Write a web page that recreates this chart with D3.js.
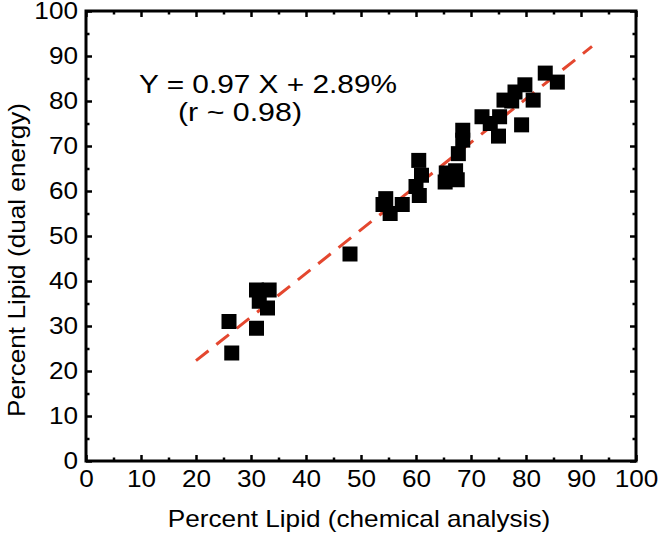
<!DOCTYPE html>
<html><head><meta charset="utf-8">
<script src="https://cdn.jsdelivr.net/npm/d3@7"></script>
<style>body{margin:0;background:#fff}svg{display:block}text{font-family:"Liberation Sans",Arial,sans-serif}</style>
</head><body>
<svg id="c" width="658" height="535"></svg>
<script>
const xVals = [26, 26.5, 31, 33.3, 31.5, 33, 31, 48, 54.5, 54, 55.3, 57.5, 60.5, 61, 60, 60.6, 65.5, 67.5, 65.3, 67.2, 67.7, 68.5, 68.5, 72, 73.5, 75.2, 75, 76, 77.4, 78, 79.8, 81.3, 79.2, 83.5, 85.7];
const yVals = [31, 24, 38, 38, 35.5, 34, 29.5, 46, 58.3, 57, 55, 57, 66.8, 63.5, 61, 59, 64, 62.5, 62, 64.5, 68.3, 71.3, 73.5, 76.5, 75, 76.5, 72.2, 80.2, 80, 82, 83.6, 80.2, 74.7, 86.2, 84.2];
const fitSlope = 0.97, fitIntercept = 2.89;
const fitRange = [20, 92];
const xTicks = [0,10,20,30,40,50,60,70,80,90,100];
const yTicks = [0,10,20,30,40,50,60,70,80,90,100];
const xTitle = "Percent Lipid (chemical analysis)";
const yTitle = "Percent Lipid (dual energy)";
const eqLine1 = "Y = 0.97 X + 2.89%";
const eqLine2 = "(r ~ 0.98)";

const svg = d3.select("#c");
const L = 86, R = 636, T = 11, B = 461;
const x = d3.scaleLinear().domain([0,100]).range([L,R]);
const y = d3.scaleLinear().domain([0,100]).range([B,T]);
const STRETCH = 1.09;
function widen(sel) {
  sel.each(function() {
    const w = this.getComputedTextLength();
    d3.select(this).attr("textLength", w * STRETCH).attr("lengthAdjust", "spacingAndGlyphs");
  });
}

// fit line
svg.append("path")
  .datum([fitRange[0], fitRange[1]])
  .attr("d", d3.line().x(d => x(d)).y(d => y(fitSlope*d + fitIntercept)))
  .attr("stroke", "#e4472f").attr("stroke-width", 3).attr("fill", "none")
  .attr("stroke-dasharray", "16,10");

// points
const pts = xVals.map((v,i)=>[v, yVals[i]]);
const s = 15;
svg.append("g").selectAll("rect").data(pts).join("rect")
  .attr("x", d => x(d[0]) - s/2).attr("y", d => y(d[1]) - s/2)
  .attr("width", s).attr("height", s).attr("fill", "#000");

// axes with inward ticks
const minor = d3.range(5, 100, 10);
function addAxis(axisGen, transform, showLabels) {
  const g = svg.append("g").attr("transform", transform).call(axisGen);
  g.select(".domain").remove();
  g.selectAll("line").attr("stroke", "#000").attr("stroke-width", 2.5);
  g.selectAll("text").attr("font-size", 24).attr("fill", "#000");
  if (!showLabels) g.selectAll("text").remove();
  return g;
}
const bx = addAxis(d3.axisBottom(x).tickValues(xTicks).tickSize(-6).tickPadding(9).tickFormat(d3.format("d")), `translate(0,${B})`, true);
bx.selectAll("text").attr("dy", "0.71em");
widen(bx.selectAll("text"));
addAxis(d3.axisBottom(x).tickValues(minor).tickSize(-3.5), `translate(0,${B})`, false);
addAxis(d3.axisTop(x).tickValues(xTicks).tickSize(-6), `translate(0,${T})`, false);
addAxis(d3.axisTop(x).tickValues(minor).tickSize(-3.5), `translate(0,${T})`, false);
const ly = addAxis(d3.axisLeft(y).tickValues(yTicks).tickSize(-6).tickPadding(8).tickFormat(d3.format("d")), `translate(${L},0)`, true);
widen(ly.selectAll("text"));
addAxis(d3.axisLeft(y).tickValues(minor).tickSize(-3.5), `translate(${L},0)`, false);
addAxis(d3.axisRight(y).tickValues(yTicks).tickSize(-6), `translate(${R},0)`, false);
addAxis(d3.axisRight(y).tickValues(minor).tickSize(-3.5), `translate(${R},0)`, false);

// frame
svg.append("rect").attr("x", L).attr("y", T).attr("width", R-L).attr("height", B-T)
  .attr("fill", "none").attr("stroke", "#000").attr("stroke-width", 3);

// equation text
svg.append("text").attr("x", 139).attr("y", 93).attr("font-size", 26)
  .attr("textLength", 258).attr("lengthAdjust", "spacingAndGlyphs").text(eqLine1);
svg.append("text").attr("x", 178).attr("y", 121).attr("font-size", 26)
  .attr("textLength", 124).attr("lengthAdjust", "spacingAndGlyphs").text(eqLine2);

// axis titles
const xt = svg.append("text").attr("x", 359).attr("y", 527).attr("text-anchor", "middle").attr("font-size", 24).text(xTitle);
widen(xt);
const yt = svg.append("text").attr("transform", `translate(25,${260}) rotate(-90)`).attr("text-anchor", "middle").attr("font-size", 24).text(yTitle);
widen(yt);
</script>
</body></html>
